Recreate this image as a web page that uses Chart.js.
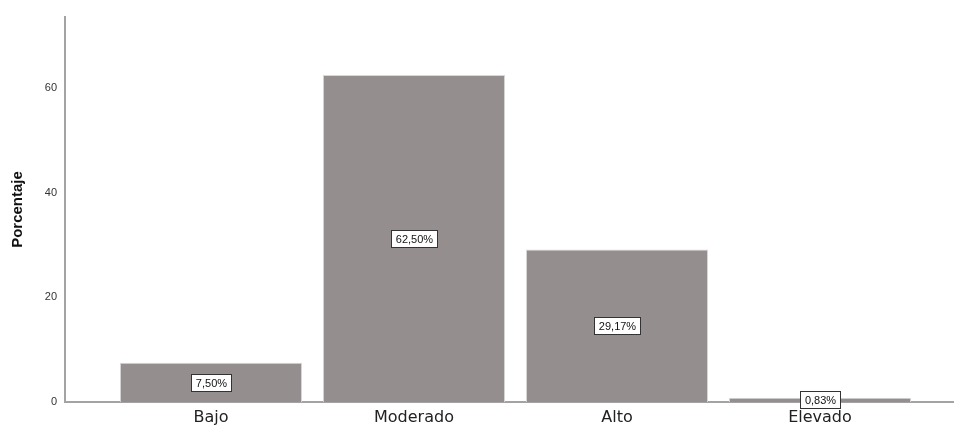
<!DOCTYPE html>
<html>
<head>
<meta charset="utf-8">
<script src="https://cdn.jsdelivr.net/npm/chart.js@4"></script>
<style>
  html, body { margin: 0; padding: 0; background: #ffffff; }
  #wrap { width: 954px; height: 425px; position: relative; }
</style>
</head>
<body>
<div id="wrap"><canvas id="chart"></canvas></div>
<script>
const categories = ['Bajo', 'Moderado', 'Alto', 'Elevado'];
const percentages = [7.50, 62.50, 29.17, 0.83];
const yTicks = [0, 20, 40, 60];

const fmt = v => v.toFixed(2).replace('.', ',') + '%';

// white boxed value labels in the middle of each bar
const boxLabels = {
    id: 'boxLabels',
    afterDatasetsDraw(chart) {
        const ctx = chart.ctx;
        const meta = chart.getDatasetMeta(0);
        ctx.save();
        ctx.font = '11px "Liberation Sans", Arial, sans-serif';
        ctx.textAlign = 'center';
        ctx.textBaseline = 'middle';
        meta.data.forEach((bar, i) => {
            const text = fmt(percentages[i]);
            const cx = bar.x;
            const cy = (bar.y + bar.base) / 2;
            const w = Math.round(ctx.measureText(text).width + 9);
            const h = 17;
            const bx = Math.round(cx - w / 2);
            const by = Math.round(cy - h / 2);
            ctx.fillStyle = '#ffffff';
            ctx.fillRect(bx, by, w, h);
            ctx.strokeStyle = '#333333';
            ctx.lineWidth = 1;
            ctx.strokeRect(bx + 0.5, by + 0.5, w, h);
            ctx.fillStyle = '#111111';
            ctx.fillText(text, cx + 0.5, by + h / 2 + 1);
        });
        ctx.restore();
    }
};

new Chart(document.getElementById('chart').getContext('2d'), {
    type: 'bar',
    data: {
        datasets: [{
            label: 'Porcentaje',
            data: categories.map((c, i) => ({ x: i, y: percentages[i] })),
            backgroundColor: '#948f8e',
            borderColor: '#d8d6d6',
            borderWidth: 1,
            categoryPercentage: 1,
            barPercentage: 0.897
        }]
    },
    options: {
        responsive: true,
        maintainAspectRatio: false,
        animation: false,
        layout: { padding: { top: 17, right: 0, left: 0, bottom: 0 } },
        plugins: {
            legend: { display: false },
            tooltip: { enabled: false }
        },
        scales: {
            x: {
                type: 'linear',
                offset: false,
                min: -0.719,
                max: 3.66,
                afterBuildTicks: axis => { axis.ticks = categories.map((c, i) => ({ value: i })); },
                afterFit: scale => { scale.height = 23; },
                grid: { display: false, drawTicks: false, offset: false },
                border: { display: true, color: '#a3a3a3', width: 2 },
                ticks: {
                    callback: v => categories[v],
                    color: '#222222',
                    padding: 6,
                    maxRotation: 0,
                    font: { family: '"DejaVu Sans", sans-serif', size: 16 }
                }
            },
            y: {
                min: 0,
                max: 73.6,
                afterBuildTicks: axis => { axis.ticks = yTicks.map(v => ({ value: v })); },
                afterFit: scale => { scale.width = 65; },
                grid: { display: false, drawTicks: false },
                border: { display: true, color: '#a3a3a3', width: 2 },
                title: {
                    display: true,
                    text: 'Porcentaje',
                    color: '#111111',
                    padding: { top: 9, bottom: 0 },
                    font: { family: '"Liberation Sans", Arial, sans-serif', size: 15, weight: 'bold' }
                },
                ticks: {
                    color: '#333333',
                    padding: 8,
                    font: { family: '"Liberation Sans", Arial, sans-serif', size: 11 }
                }
            }
        }
    },
    plugins: [boxLabels]
});
</script>
</body>
</html>
